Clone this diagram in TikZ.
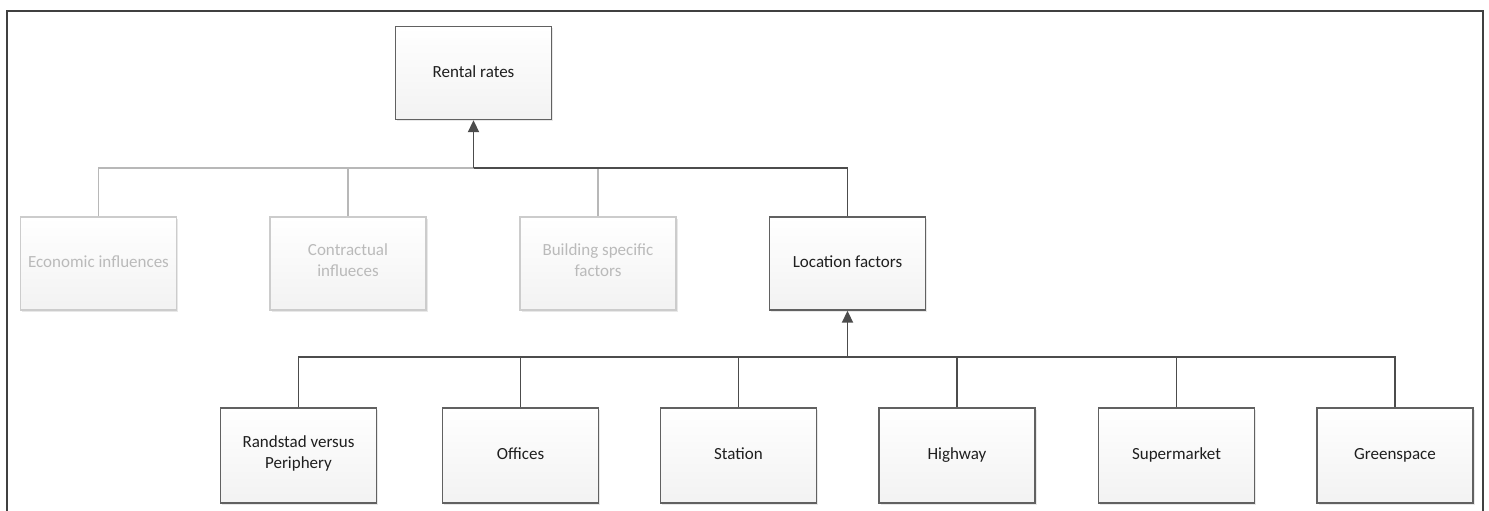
\documentclass[tikz,border=0pt]{standalone}
\usepackage{fontspec}
\setmainfont{Carlito}
\usetikzlibrary{arrows.meta,shadows}
\begin{document}
\begin{tikzpicture}[x=1pt,y=-1pt,
  basebox/.style={rectangle, top color=white, bottom color=black!5, minimum width=156pt, minimum height=93pt, align=center, inner sep=2pt,
    font=\fontsize{17}{21}\selectfont,
    drop shadow={shadow xshift=1.8pt, shadow yshift=-1.8pt, opacity=0.3, fill=black!30}},
  darkbox/.style={basebox, draw=black!62, line width=1.4pt, text=black!88},
  lightbox/.style={basebox, draw=black!20, line width=1.2pt, text=black!27},
  darkline/.style={draw=black!70, line width=1.9pt},
  lightline/.style={draw=black!28, line width=1.6pt},
  uparrow/.style={darkline, -{Triangle[length=12pt,width=11pt]}},
  frameline/.style={draw=black!75, line width=2.8pt}
]
\useasboundingbox (0,0) rectangle (1489,511);
\draw[frameline] (7,530) -- (7,11) -- (1483,11) -- (1483,530);

\node[darkbox] (rent) at (473.5,73) {Rental rates\strut};

\node[lightbox] (eco) at (98.5,263.5) {Economic influences\strut};
\node[lightbox] (con) at (348,263.5) {Contractual\\influeces\strut};
\node[lightbox] (bld) at (598,263.5) {Building specific\\factors\strut};
\node[darkbox] (loc) at (847.5,263.5) {Location factors\strut};

\node[darkbox, minimum height=95pt] (r1) at (298.5,455.5) {Randstad versus\\Periphery\strut};
\node[darkbox, minimum height=95pt] (r2) at (520.5,455.5) {Offices\strut};
\node[darkbox, minimum height=95pt] (r3) at (738.5,455.5) {Station\strut};
\node[darkbox, minimum height=95pt] (r4) at (957,455.5) {Highway\strut};
\node[darkbox, minimum height=95pt] (r5) at (1176.5,455.5) {Supermarket\strut};
\node[darkbox, minimum height=95pt] (r6) at (1395,455.5) {Greenspace\strut};

\coordinate (j1) at (473.5,168);
\coordinate (j2) at (847.5,357);

\draw[lightline] (eco.north) |- (j1);
\draw[lightline] (con.north) -- (con.north |- j1);
\draw[lightline] (bld.north) -- (bld.north |- j1);
\draw[darkline] (loc.north) |- (j1);
\draw[uparrow] (j1) -- (rent.south);

\draw[darkline] (r1.north) |- (j2);
\draw[darkline] (r6.north) |- (j2);
\draw[darkline] (r2.north) -- (r2.north |- j2);
\draw[darkline] (r3.north) -- (r3.north |- j2);
\draw[darkline] (r4.north) -- (r4.north |- j2);
\draw[darkline] (r5.north) -- (r5.north |- j2);
\draw[uparrow] (j2) -- (loc.south);
\end{tikzpicture}
\end{document}
